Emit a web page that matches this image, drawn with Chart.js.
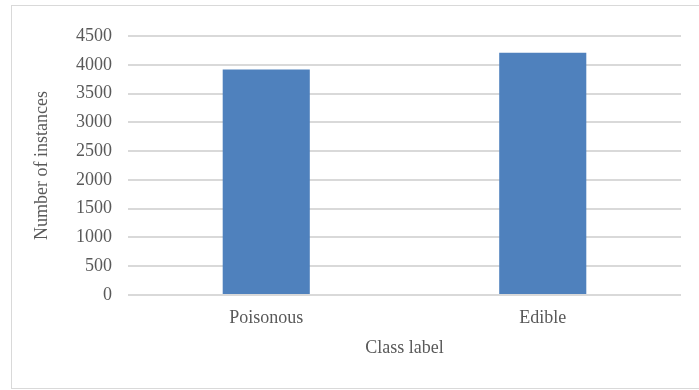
<!DOCTYPE html>
<html>
<head>
<meta charset="utf-8">
<script src="https://cdn.jsdelivr.net/npm/chart.js@4"></script>
<style>
  html, body { margin: 0; padding: 0; background: #ffffff; }
  #wrap { position: relative; width: 699px; height: 390px; }
</style>
</head>
<body>
<div id="wrap"><canvas id="chart" width="699" height="390"></canvas></div>
<script>
// Class distribution of the mushroom samples
const categories = ['Poisonous', 'Edible'];
const instanceCounts = [3916, 4208];
const yTicks = [0, 500, 1000, 1500, 2000, 2500, 3000, 3500, 4000, 4500];

const textColor = '#595959';
const gridColor = '#d9d9d9';
const serif = "'Liberation Serif', 'Times New Roman', serif";

// Light frame around the whole chart
const framePlugin = {
  id: 'frame',
  beforeDraw(chart) {
    const ctx = chart.ctx;
    ctx.save();
    ctx.fillStyle = '#ffffff';
    ctx.fillRect(0, 0, chart.width, chart.height);
    ctx.strokeStyle = gridColor;
    ctx.lineWidth = 1;
    ctx.strokeRect(11.5, 5.5, chart.width, 383);
    ctx.restore();
  }
};

new Chart(document.getElementById('chart'), {
  type: 'bar',
  data: {
    labels: categories,
    datasets: [{
      label: 'Number of instances',
      data: instanceCounts,
      backgroundColor: '#4f81bd',
      borderWidth: 0,
      categoryPercentage: 1.0,
      barPercentage: 0.315
    }]
  },
  options: {
    responsive: false,
    animation: false,
    devicePixelRatio: 1,
    layout: { padding: { left: 31, right: 18, top: 36, bottom: 31 } },
    plugins: {
      legend: { display: false },
      tooltip: { enabled: false }
    },
    scales: {
      x: {
        grid: { display: false, drawTicks: false },
        border: { display: false },
        ticks: {
          color: textColor,
          font: { family: serif, size: 18 },
          padding: 12,
          maxRotation: 0
        },
        title: {
          display: true,
          text: 'Class label',
          color: textColor,
          font: { family: serif, size: 18 },
          padding: 0
        },
        afterFit(scale) { scale.height = 390 - 295 - 31; }
      },
      y: {
        min: 0,
        max: 4500,
        afterBuildTicks(scale) { scale.ticks = yTicks.map(v => ({ value: v })); },
        grid: { color: gridColor, lineWidth: 2, drawTicks: false },
        border: { display: false },
        ticks: {
          color: textColor,
          font: { family: serif, size: 18 },
          padding: 16,
          callback: (value) => String(value)
        },
        title: {
          display: true,
          text: 'Number of instances',
          color: textColor,
          font: { family: serif, size: 18 },
          padding: 0
        },
        afterFit(scale) { scale.width = 128 - 31; }
      }
    }
  },
  plugins: [framePlugin]
});
</script>
</body>
</html>
